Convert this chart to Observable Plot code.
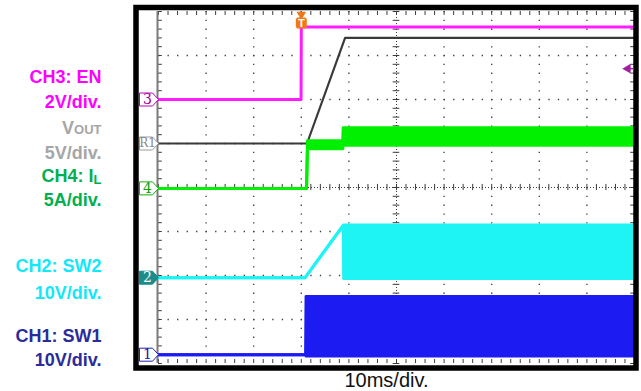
<!DOCTYPE html>
<html><head><meta charset="utf-8">
<script src="https://cdn.jsdelivr.net/npm/d3@7"></script>
<script src="https://cdn.jsdelivr.net/npm/@observablehq/plot@0.6"></script>
<style>body{margin:0;background:#fff;} svg{display:block}</style>
</head><body><div id="chart"></div>
<script>
// Time axis in ms from the left edge of the screen (10 ms/div, 10 divisions); trigger at 30 ms.
// Vertical axis in screen divisions from the centre line (8 divisions).
const channelNames  = ["EN", "VOUT", "IL", "SW2", "SW1"];
const channelPerDiv = [2, 5, 5, 10, 10];            // units per division
const channelGround = [2.0, 1.0, -0.02, -2.05, -3.8]; // ground marker, divisions from centre
const channelMarker = ["3", "R1", "4", "2", "1"];

const enTime  = [0, 29.95, 30.0, 100];
const enVolts = [0, 0, 3.3, 3.3];

const voutTime  = [0, 31.2, 39.2, 100];
const voutVolts = [0, 0, 12, 12];

const ilTime = [0, 31.1, 31.3, 38.7, 38.8, 100];
const ilLow  = [0, 0, 4.5, 4.5, 4.9, 4.9];
const ilHigh = [0, 0, 5.4, 5.4, 6.9, 6.9];

const sw2Time = [0, 30.8, 38.8, 38.9, 100];
const sw2Low  = [0, 0, 11.9, -0.2, -0.2];
const sw2High = [0, 0, 11.9, 12.0, 12.0];

const sw1Time = [0, 30.9, 31.0, 100];
const sw1Low  = [0, 0, -0.3, -0.3];
const sw1High = [0, 0, 13.2, 13.2];

const triggerTime  = 30;
const triggerLevel = 1.4; // V on EN

const labelText = ["CH3: EN", "2V/div.", "VOUT", "5V/div.", "CH4: IL", "5A/div.",
                   "CH2: SW2", "10V/div.", "CH1: SW1", "10V/div."];
const timebaseText = "10ms/div.";

// ---------- build tables ----------
function rows(ch, time, lo, hi) {
  hi = hi || lo;
  return time.map((t, i) => ({
    t,
    lo: channelGround[ch] + lo[i] / channelPerDiv[ch],
    hi: channelGround[ch] + hi[i] / channelPerDiv[ch]
  }));
}
const enRows   = rows(0, enTime, enVolts);
const voutRows = rows(1, voutTime, voutVolts);
const ilRows   = rows(2, ilTime, ilLow, ilHigh);
const sw2Rows  = rows(3, sw2Time, sw2Low, sw2High);
const sw1Rows  = rows(4, sw1Time, sw1Low, sw1High);

// styles / layout
const traceColor = ["#ff1cff", "#3a3a3a", "#00f000", "#1ef4f4", "#1c1cf2"];
const markerStroke = ["#c000c0", "#9a9a9a", "#10b010", "#1a8c8c", "#2020b0"];
const markerFill = ["#ffffff", "#ffffff", "#ffffff", "#1a8c8c", "#ffffff"];
const markerTextColor = ["#a000a0", "#8a8a8a", "#10a010", "#ffffff", "#2020a0"];
const labelColor = ["#ff00ff", "#ff00ff", "#a6a6a6", "#a6a6a6", "#00b050", "#00b050",
                    "#12e8f8", "#12e8f8", "#2b2b9a", "#2b2b9a"];
const labelDiv = [2.51, 1.93, 1.34, 0.77, 0.25, -0.30, -1.80, -2.41, -3.39, -3.93];

const flag = {draw(ctx) {
  ctx.moveTo(-19, -6.5); ctx.lineTo(-6, -6.5); ctx.lineTo(0, 0);
  ctx.lineTo(-6, 6.5); ctx.lineTo(-19, 6.5); ctx.closePath();
}};
const roundSq = {draw(ctx) {
  const s = 5.5, c = 1.5;
  ctx.moveTo(-s + c, -s); ctx.lineTo(s - c, -s); ctx.lineTo(s, -s + c);
  ctx.lineTo(s, s - c); ctx.lineTo(s - c, s); ctx.lineTo(-s + c, s);
  ctx.lineTo(-s, s - c); ctx.lineTo(-s, -s + c); ctx.closePath();
}};

const minorX = d3.range(0, 100.001, 2);
const minorY = d3.range(-4, 4.001, 0.2);
const majorX = d3.range(10, 100, 10).filter(d => d !== 50);
const majorY = d3.range(-3, 4, 1).filter(d => d !== 0);
const gridColor = "#3c3c3c";

const marks = [
  // graticule
  Plot.ruleX(majorX, {x: d => d, stroke: gridColor, strokeWidth: 1.3, strokeDasharray: "1.3,7.5"}),
  Plot.ruleY(majorY, {y: d => d, stroke: gridColor, strokeWidth: 1.3, strokeDasharray: "1.3,8.22"}),
  Plot.ruleX([50], {x: d => d, stroke: gridColor, strokeWidth: 1, strokeDasharray: "1,2"}),
  Plot.ruleY([0], {y: d => d, stroke: gridColor, strokeWidth: 1, strokeDasharray: "1,2"}),
  Plot.ruleY(minorY, {y: d => d, x1: 49.3, x2: 50.7, stroke: gridColor, strokeWidth: 1}),
  Plot.ruleX(minorX, {x: d => d, y1: -0.07, y2: 0.07, stroke: gridColor, strokeWidth: 1}),
  Plot.ruleX(minorX, {x: d => d, y1: 4, y2: 3.91, stroke: gridColor, strokeWidth: 1}),
  Plot.ruleX(minorX, {x: d => d, y1: -4, y2: -3.91, stroke: gridColor, strokeWidth: 1}),
  Plot.ruleY(minorY, {y: d => d, x1: 0, x2: 0.8, stroke: gridColor, strokeWidth: 1}),
  Plot.ruleY(minorY, {y: d => d, x1: 99.2, x2: 100, stroke: gridColor, strokeWidth: 1}),
  Plot.ruleX([0], {x: d => d, stroke: "#7a7a7a", strokeWidth: 2, dx: -1}),

  // CH1 SW1
  Plot.areaY(sw1Rows, {x: "t", y1: "lo", y2: "hi", fill: traceColor[4]}),
  Plot.line(sw1Rows, {x: "t", y: "lo", stroke: traceColor[4], strokeWidth: 3}),
  Plot.line(sw1Rows, {x: "t", y: "hi", stroke: traceColor[4], strokeWidth: 3}),
  // CH2 SW2
  Plot.areaY(sw2Rows, {x: "t", y1: "lo", y2: "hi", fill: traceColor[3]}),
  Plot.line(sw2Rows, {x: "t", y: "lo", stroke: traceColor[3], strokeWidth: 3}),
  Plot.line(sw2Rows, {x: "t", y: "hi", stroke: traceColor[3], strokeWidth: 3}),
  // VOUT
  Plot.line(voutRows, {x: "t", y: "lo", stroke: traceColor[1], strokeWidth: 2.2}),
  // CH4 IL
  Plot.areaY(ilRows, {x: "t", y1: "lo", y2: "hi", fill: traceColor[2]}),
  Plot.line(ilRows, {x: "t", y: "lo", stroke: traceColor[2], strokeWidth: 3}),
  Plot.line(ilRows, {x: "t", y: "hi", stroke: traceColor[2], strokeWidth: 3}),
  // CH3 EN
  Plot.line(enRows, {x: "t", y: "lo", stroke: traceColor[0], strokeWidth: 3}),

  // frame
  Plot.frame({stroke: "#000", strokeWidth: 5.5, insetLeft: -22.5, insetTop: -4, insetRight: -1.5, insetBottom: -4.5}),

  // trigger marker
  Plot.dot([triggerTime], {x: d => d, frameAnchor: "top", dy: 3, symbol: "triangle", rotate: 180, r: 3.6, fill: "#f07818"}),
  Plot.dot([triggerTime], {x: d => d, frameAnchor: "top", dy: 11.5, symbol: roundSq, fill: "#f07818"}),
  Plot.text([triggerTime], {x: d => d, text: () => "T", frameAnchor: "top", dy: 12, fill: "#fff",
    fontWeight: "bold", fontSize: 11, lineAnchor: "middle"}),
  // trigger level marker
  Plot.ruleY([triggerLevel], {y: d => channelGround[0] + d / channelPerDiv[0], x1: 98.6, x2: 100, stroke: "#a020a0", strokeWidth: 1.5}),
  Plot.dot([triggerLevel], {x: () => 98.6, y: d => channelGround[0] + d / channelPerDiv[0],
    symbol: "triangle", rotate: -90, r: 3.6, fill: "#a020a0"}),

  // channel ground markers
  ...channelNames.map((name, i) => [
    Plot.dot([channelGround[i]], {x: () => 0, y: d => d, symbol: flag, fill: markerFill[i],
      stroke: markerStroke[i], strokeWidth: 1}),
    Plot.text([channelMarker[i]], {x: () => 0, y: () => channelGround[i], text: d => d, dx: -11,
      fill: markerTextColor[i], fontSize: channelMarker[i].length > 1 ? 12 : 14,
      fontFamily: "DejaVu Serif, serif", lineAnchor: "middle"})
  ]),

  // channel labels
  Plot.text(labelText, {y: (d, i) => labelDiv[i], text: d => d, frameAnchor: "left", dx: -57,
    textAnchor: "end", lineAnchor: "middle", fontSize: 18, fontWeight: "bold",
    fill: (d, i) => labelColor[i]}),
  Plot.text([timebaseText], {text: d => d, frameAnchor: "bottom", dx: -10, dy: 17,
    lineAnchor: "middle", fontSize: 20, fill: "#111"})
];

const chart = Plot.plot({
  width: 641, height: 391,
  marginLeft: 158, marginRight: 7, marginTop: 11, marginBottom: 28,
  x: {domain: [0, 100], axis: null},
  y: {domain: [-4, 4], axis: null},
  color: {type: "identity"},
  style: {fontFamily: "Liberation Sans, Arial, sans-serif", background: "#fff", overflow: "visible"},
  marks
});
document.getElementById("chart").appendChild(chart);

// small-caps / subscript pieces of the labels
chart.querySelectorAll("text").forEach(t => {
  if (t.textContent === "VOUT") {
    t.textContent = "V";
    const s = document.createElementNS("http://www.w3.org/2000/svg", "tspan");
    s.setAttribute("font-size", "13"); s.textContent = "OUT"; t.appendChild(s);
  } else if (t.textContent === "CH4: IL") {
    t.textContent = "CH4: I";
    const s = document.createElementNS("http://www.w3.org/2000/svg", "tspan");
    s.setAttribute("font-size", "13"); s.setAttribute("dy", "2"); s.textContent = "L"; t.appendChild(s);
  }
});
</script></body></html>
